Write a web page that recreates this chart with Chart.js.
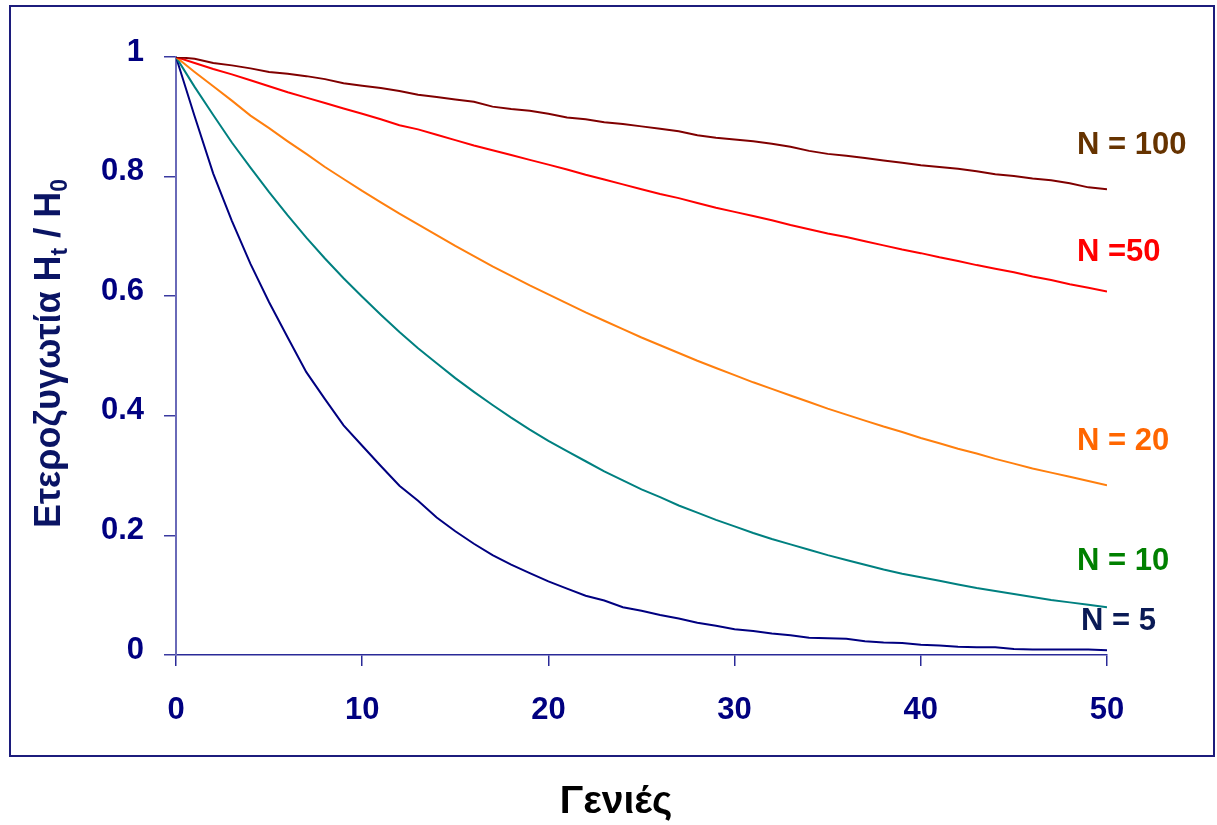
<!DOCTYPE html>
<html>
<head>
<meta charset="utf-8">
<script src="https://cdn.jsdelivr.net/npm/chart.js@4.4.1/dist/chart.umd.min.js"></script>
<style>
  html, body { margin: 0; padding: 0; background: #ffffff; }
  #wrap { width: 1217px; height: 825px; }
</style>
</head>
<body>
<div id="wrap"><canvas id="hetChart" width="1217" height="825"></canvas></div>
<script>
const generations = [0,1,2,3,4,5,6,7,8,9,10,11,12,13,14,15,16,17,18,19,20,21,22,23,24,25,
  26,27,28,29,30,31,32,33,34,35,36,37,38,39,40,41,42,43,44,45,46,47,48,49,50];

const n100 = [1.000,0.997,0.990,0.986,0.981,0.975,0.972,0.968,0.963,0.956,0.952,0.948,0.943,0.937,0.933,0.929,0.925,
  0.917,0.913,0.910,0.905,0.899,0.896,0.891,0.888,0.884,0.880,0.876,0.869,0.865,0.862,0.859,0.855,0.850,
  0.843,0.838,0.835,0.831,0.827,0.823,0.819,0.816,0.813,0.809,0.804,0.801,0.797,0.794,0.789,0.782,0.779];

const n50 = [1.000,0.990,0.980,0.971,0.961,0.951,0.941,0.932,0.923,0.914,0.905,0.896,0.886,0.879,0.870,0.861,0.852,
  0.844,0.836,0.828,0.820,0.812,0.803,0.795,0.787,0.779,0.771,0.764,0.756,0.748,0.741,0.734,0.727,0.719,
  0.712,0.705,0.699,0.692,0.685,0.678,0.672,0.665,0.659,0.652,0.646,0.640,0.633,0.627,0.620,0.614,0.608];

const n20 = [1.000,0.975,0.951,0.927,0.902,0.881,0.859,0.838,0.816,0.796,0.776,0.757,0.738,0.720,0.702,0.684,0.667,
  0.650,0.634,0.618,0.603,0.588,0.573,0.559,0.545,0.531,0.518,0.505,0.492,0.480,0.468,0.456,0.445,0.434,
  0.423,0.412,0.402,0.392,0.382,0.373,0.363,0.354,0.345,0.337,0.328,0.320,0.312,0.305,0.298,0.291,0.284];

const n10 = [1.000,0.950,0.903,0.857,0.815,0.774,0.735,0.698,0.663,0.630,0.599,0.569,0.540,0.513,0.488,0.463,0.440,
  0.418,0.397,0.377,0.358,0.341,0.324,0.307,0.292,0.277,0.264,0.250,0.238,0.226,0.215,0.204,0.194,0.185,
  0.176,0.167,0.159,0.151,0.143,0.136,0.130,0.124,0.118,0.112,0.107,0.102,0.097,0.092,0.088,0.084,0.080];

const n5 = [1.000,0.901,0.805,0.726,0.654,0.590,0.531,0.473,0.428,0.384,0.350,0.316,0.283,0.258,0.230,0.207,0.186,
  0.167,0.151,0.137,0.123,0.111,0.099,0.091,0.080,0.074,0.067,0.061,0.054,0.049,0.043,0.040,0.036,0.033,
  0.029,0.028,0.027,0.023,0.021,0.020,0.017,0.016,0.014,0.013,0.013,0.010,0.009,0.009,0.009,0.009,0.008];

const seriesNames = ["N = 100", "N =50", "N = 20", "N = 10", "N = 5"];
const lineColors = ["#800000", "#ff0000", "#ff7f0e", "#008080", "#000080"];
const labelColors = ["#663300", "#ff0000", "#ff6600", "#008000", "#0a1a55"];
const seriesValues = [n100, n50, n20, n10, n5];

const navy = "#000080";
const font = "'Liberation Sans', Arial, sans-serif";

function points(vals) {
  return generations.map((g, i) => ({ x: g, y: vals[i] }));
}

const datasets = seriesValues.map((vals, i) => ({
  label: seriesNames[i],
  data: points(vals),
  borderColor: lineColors[i],
  borderWidth: 2,
  pointRadius: 0,
  tension: 0,
  fill: false
}));

// frame, axis titles and series labels
const decorations = {
  id: "decorations",
  afterDraw(chart) {
    const ctx = chart.ctx;
    ctx.save();

    ctx.strokeStyle = "#1c1c7c";
    ctx.lineWidth = 2;
    ctx.strokeRect(10, 6, 1204, 750);

    // series labels on the right
    const baselines = [154, 261, 450, 570, 630];
    const lefts = [1077, 1077, 1077, 1077, 1081];
    ctx.font = "bold 31px " + font;
    ctx.textAlign = "left";
    ctx.textBaseline = "alphabetic";
    seriesNames.forEach((name, i) => {
      ctx.fillStyle = labelColors[i];
      ctx.fillText(name, lefts[i], baselines[i]);
    });

    // x title
    ctx.fillStyle = "#000000";
    ctx.font = "bold 39px " + font;
    ctx.textAlign = "center";
    ctx.fillText("Γενιές", 616, 813);

    // y title with subscripts, rotated
    ctx.translate(60, 528);
    ctx.rotate(-Math.PI / 2);
    ctx.fillStyle = "#0a1464";
    ctx.textAlign = "left";
    const big = "bold 36px " + font;
    const small = "bold 23px " + font;
    const parts = [
      ["Ετεροζυγωτία H", big, 0],
      ["t", small, 7],
      [" / H", big, 0],
      ["0", small, 7]
    ];
    let x = 0;
    parts.forEach(([txt, f, dy]) => {
      ctx.font = f;
      ctx.fillText(txt, x, dy);
      x += ctx.measureText(txt).width;
    });

    ctx.restore();
  }
};

new Chart(document.getElementById("hetChart"), {
  type: "line",
  data: { datasets },
  options: {
    responsive: false,
    animation: false,
    devicePixelRatio: 1,
    layout: { padding: { left: 0, right: 110, top: 57, bottom: 70 } },
    plugins: {
      legend: { display: false },
      tooltip: { enabled: false }
    },
    scales: {
      x: {
        type: "linear",
        min: 0,
        max: 50,
        afterFit: (s) => { s.height = 100; },
        ticks: {
          stepSize: 10,
          color: navy,
          font: { family: font, size: 31, weight: "bold" },
          padding: 26,
          maxRotation: 0
        },
        grid: {
          drawOnChartArea: false,
          drawTicks: true,
          tickLength: 11,
          tickColor: "#2a2a98",
          lineWidth: 1.5
        },
        border: { display: true, color: "#2a2a98", width: 1.5 }
      },
      y: {
        min: 0,
        max: 1,
        afterFit: (s) => { s.width = 176; },
        ticks: {
          stepSize: 0.2,
          color: navy,
          font: { family: font, size: 31, weight: "bold" },
          padding: 20,
          labelOffset: -5,
          callback: (v) => String(Math.round(v * 10) / 10)
        },
        grid: {
          drawOnChartArea: false,
          drawTicks: true,
          tickLength: 12,
          tickColor: "#3a3aa0",
          lineWidth: 1.5
        },
        border: { display: true, color: "#6a6ab8", width: 2 }
      }
    }
  },
  plugins: [decorations]
});
</script>
</body>
</html>
